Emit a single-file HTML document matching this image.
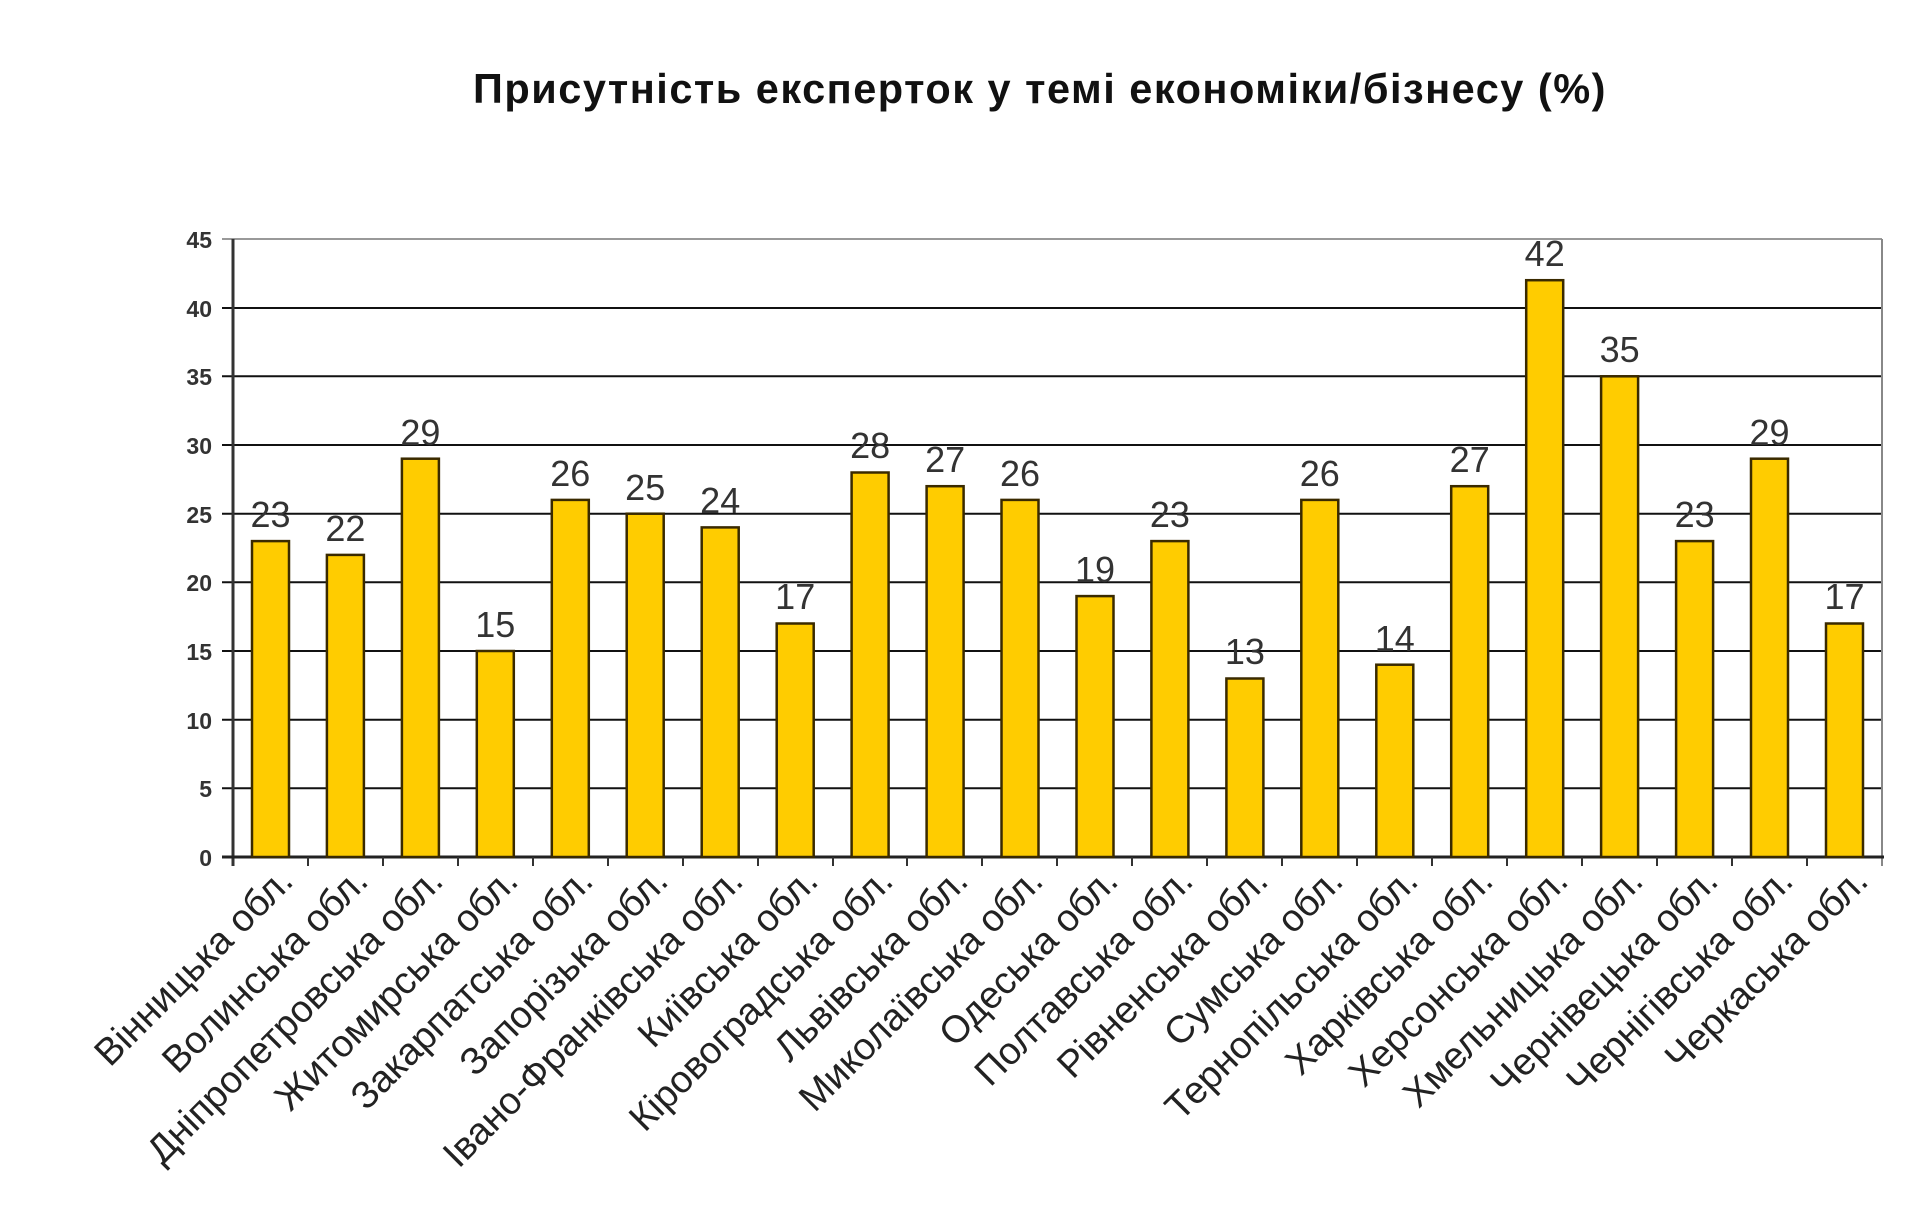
<!DOCTYPE html>
<html><head><meta charset="utf-8"><style>
html,body{margin:0;padding:0;background:#fff;}
svg{display:block;font-family:"Liberation Sans",Arial,sans-serif;}
</style></head><body>
<svg width="1920" height="1206" viewBox="0 0 1920 1206" xmlns="http://www.w3.org/2000/svg">
<text x="1040" y="103" font-size="41.5" font-weight="bold" text-anchor="middle" fill="#111" letter-spacing="1.5">Присутність  експерток у темі економіки/бізнесу  (%)</text>
<g stroke="#111" stroke-width="2">
<line x1="222" y1="308" x2="1882" y2="308"/>
<line x1="222" y1="376.3" x2="1882" y2="376.3"/>
<line x1="222" y1="445" x2="1882" y2="445"/>
<line x1="222" y1="513.7" x2="1882" y2="513.7"/>
<line x1="222" y1="582.3" x2="1882" y2="582.3"/>
<line x1="222" y1="651" x2="1882" y2="651"/>
<line x1="222" y1="719.7" x2="1882" y2="719.7"/>
<line x1="222" y1="788.3" x2="1882" y2="788.3"/>
</g>
<line x1="222" y1="239" x2="1882" y2="239" stroke="#999" stroke-width="2"/>
<line x1="1882" y1="239" x2="1882" y2="866" stroke="#888" stroke-width="2"/>
<line x1="233" y1="239" x2="233" y2="866" stroke="#333" stroke-width="3"/>
<line x1="222" y1="857" x2="1884" y2="857" stroke="#222" stroke-width="3"/>
<g stroke="#333" stroke-width="2">
<line x1="308" y1="857" x2="308" y2="866"/><line x1="383" y1="857" x2="383" y2="866"/><line x1="458" y1="857" x2="458" y2="866"/><line x1="533" y1="857" x2="533" y2="866"/><line x1="608" y1="857" x2="608" y2="866"/><line x1="683" y1="857" x2="683" y2="866"/><line x1="758" y1="857" x2="758" y2="866"/><line x1="833" y1="857" x2="833" y2="866"/><line x1="907" y1="857" x2="907" y2="866"/><line x1="982" y1="857" x2="982" y2="866"/><line x1="1057" y1="857" x2="1057" y2="866"/><line x1="1132" y1="857" x2="1132" y2="866"/><line x1="1207" y1="857" x2="1207" y2="866"/><line x1="1282" y1="857" x2="1282" y2="866"/><line x1="1357" y1="857" x2="1357" y2="866"/><line x1="1432" y1="857" x2="1432" y2="866"/><line x1="1507" y1="857" x2="1507" y2="866"/><line x1="1582" y1="857" x2="1582" y2="866"/><line x1="1657" y1="857" x2="1657" y2="866"/><line x1="1732" y1="857" x2="1732" y2="866"/><line x1="1807" y1="857" x2="1807" y2="866"/>
</g>
<g font-size="23" font-weight="bold" fill="#333" text-anchor="end">
<text x="212" y="248">45</text><text x="212" y="317">40</text><text x="212" y="385">35</text><text x="212" y="454">30</text><text x="212" y="523">25</text><text x="212" y="591">20</text><text x="212" y="660">15</text><text x="212" y="729">10</text><text x="212" y="797">5</text><text x="212" y="866">0</text>
</g>
<g fill="#FFCC00" stroke="#3a2a00" stroke-width="2.5">
<rect x="252" y="541.1" width="37" height="315.9"/>
<rect x="326.9" y="554.9" width="37" height="302.1"/>
<rect x="401.9" y="458.7" width="37" height="398.3"/>
<rect x="476.8" y="651" width="37" height="206"/>
<rect x="551.8" y="499.9" width="37" height="357.1"/>
<rect x="626.7" y="513.7" width="37" height="343.3"/>
<rect x="701.7" y="527.4" width="37" height="329.6"/>
<rect x="776.7" y="623.5" width="37" height="233.5"/>
<rect x="851.6" y="472.5" width="37" height="384.5"/>
<rect x="926.6" y="486.2" width="37" height="370.8"/>
<rect x="1001.5" y="499.9" width="37" height="357.1"/>
<rect x="1076.5" y="596.1" width="37" height="260.9"/>
<rect x="1151.4" y="541.1" width="37" height="315.9"/>
<rect x="1226.4" y="678.5" width="37" height="178.5"/>
<rect x="1301.3" y="499.9" width="37" height="357.1"/>
<rect x="1376.3" y="664.7" width="37" height="192.3"/>
<rect x="1451.2" y="486.2" width="37" height="370.8"/>
<rect x="1526.2" y="280.2" width="37" height="576.8"/>
<rect x="1601.1" y="376.3" width="37" height="480.7"/>
<rect x="1676.1" y="541.1" width="37" height="315.9"/>
<rect x="1751" y="458.7" width="37" height="398.3"/>
<rect x="1826" y="623.5" width="37" height="233.5"/>
</g>
<g font-size="36" fill="#333" text-anchor="middle">
<text x="270.5" y="527">23</text><text x="345.4" y="541">22</text><text x="420.4" y="445">29</text><text x="495.3" y="637">15</text><text x="570.3" y="486">26</text><text x="645.2" y="500">25</text><text x="720.2" y="513">24</text><text x="795.2" y="609">17</text><text x="870.1" y="458">28</text><text x="945.1" y="472">27</text><text x="1020" y="486">26</text><text x="1095" y="582">19</text><text x="1169.9" y="527">23</text><text x="1244.9" y="664">13</text><text x="1319.8" y="486">26</text><text x="1394.8" y="651">14</text><text x="1469.7" y="472">27</text><text x="1544.7" y="266">42</text><text x="1619.6" y="362">35</text><text x="1694.6" y="527">23</text><text x="1769.5" y="445">29</text><text x="1844.5" y="609">17</text>
</g>
<g font-size="38" fill="#222" text-anchor="end">
<text transform="translate(295,883) rotate(-45)">Вінницька обл.</text>
<text transform="translate(370,883) rotate(-45)">Волинська обл.</text>
<text transform="translate(445,883) rotate(-45)">Дніпропетровська обл.</text>
<text transform="translate(520,883) rotate(-45)">Житомирська обл.</text>
<text transform="translate(595,883) rotate(-45)">Закарпатська обл.</text>
<text transform="translate(670,883) rotate(-45)">Запорізька обл.</text>
<text transform="translate(745,883) rotate(-45)">Івано-Франківська обл.</text>
<text transform="translate(820,883) rotate(-45)">Київська обл.</text>
<text transform="translate(895,883) rotate(-45)">Кіровоградська обл.</text>
<text transform="translate(970,883) rotate(-45)">Львівська обл.</text>
<text transform="translate(1045,883) rotate(-45)">Миколаївська обл.</text>
<text transform="translate(1120,883) rotate(-45)">Одеська обл.</text>
<text transform="translate(1195,883) rotate(-45)">Полтавська обл.</text>
<text transform="translate(1270,883) rotate(-45)">Рівненська обл.</text>
<text transform="translate(1345,883) rotate(-45)">Сумська обл.</text>
<text transform="translate(1420,883) rotate(-45)">Тернопільська обл.</text>
<text transform="translate(1495,883) rotate(-45)">Харківська обл.</text>
<text transform="translate(1570,883) rotate(-45)">Херсонська обл.</text>
<text transform="translate(1645,883) rotate(-45)">Хмельницька обл.</text>
<text transform="translate(1720,883) rotate(-45)">Чернівецька обл.</text>
<text transform="translate(1795,883) rotate(-45)">Чернігівська обл.</text>
<text transform="translate(1870,883) rotate(-45)">Черкаська обл.</text>
</g>
</svg>
</body></html>
